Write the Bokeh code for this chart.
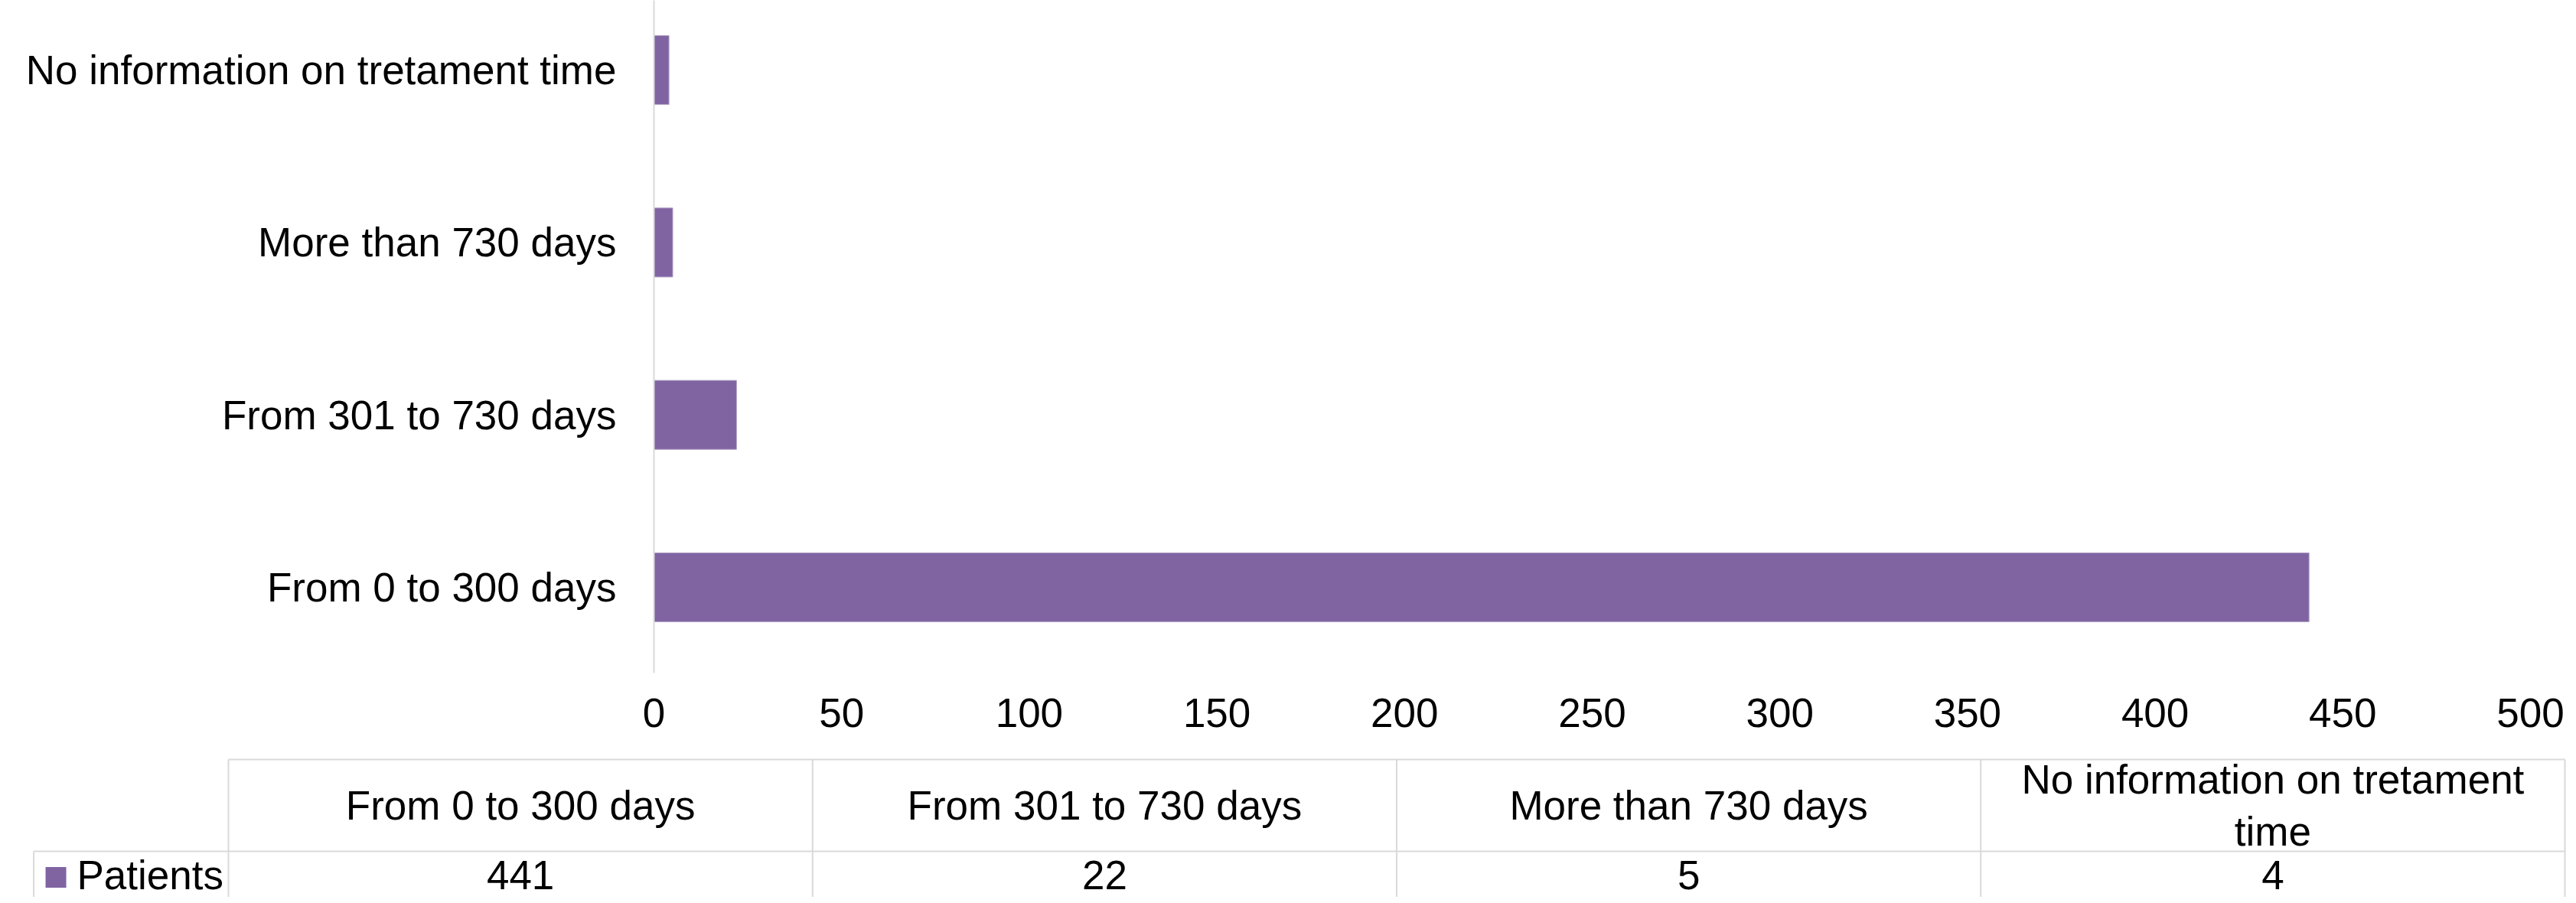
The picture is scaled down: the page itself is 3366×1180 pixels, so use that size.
import textwrap
from bokeh.plotting import figure
from bokeh.models import Range1d, FixedTicker, ColumnDataSource
from bokeh.core.properties import value
from bokeh.embed import file_html
from bokeh.resources import INLINE

# ---- data ----
categories = ["From 0 to 300 days", "From 301 to 730 days", "More than 730 days",
              "No information on tretament time"]
patients = [441, 22, 5, 4]
series_name = "Patients"
x_ticks = [0, 50, 100, 150, 200, 250, 300, 350, 400, 450, 500]

# ---- style ----
FONT = "Liberation Sans"
FS = "53px"
BAR = "#8064A2"
GRID = "#D9D9D9"

ypos = list(range(len(categories)))

p1 = figure(width=3358, height=989, x_range=Range1d(0, 500),
            y_range=Range1d(-0.497, 3.404), output_backend="svg",
            toolbar_location=None, min_border_left=854, min_border_right=52,
            min_border_top=0, min_border_bottom=110)
p1.outline_line_color = None
p1.xgrid.visible = False
p1.ygrid.visible = False

src = ColumnDataSource(dict(y=ypos, v=patients))
p1.hbar(y="y", left=0, right="v", height=0.4, source=src,
        fill_color=BAR, line_color="#B3A2C7", line_width=1)

xa = p1.xaxis[0]
xa.ticker = FixedTicker(ticks=x_ticks)
xa.axis_line_color = None
xa.major_tick_line_color = None
xa.minor_tick_line_color = None
xa.major_tick_out = 0
xa.major_label_standoff = 33
xa.major_label_text_font = FONT
xa.major_label_text_font_size = FS
xa.major_label_text_color = "black"

ya = p1.yaxis[0]
ya.ticker = FixedTicker(ticks=ypos)
ya.major_label_overrides = {i: c for i, c in zip(ypos, categories)}
ya.axis_line_color = GRID
ya.axis_line_width = 2
ya.major_tick_line_color = None
ya.minor_tick_line_color = None
ya.major_tick_out = 0
ya.major_label_standoff = 49
ya.major_label_text_font = FONT
ya.major_label_text_font_size = FS
ya.major_label_text_color = "black"

# ---- data table ----
n = len(categories)
p2 = figure(width=3358, height=183, x_range=Range1d(-0.39044, 4.00917),
            y_range=Range1d(183, 0), output_backend="svg", toolbar_location=None,
            min_border_left=0, min_border_right=0, min_border_top=0,
            min_border_bottom=0, x_axis_location=None, y_axis_location=None)
p2.outline_line_color = None
p2.xgrid.visible = False
p2.ygrid.visible = False

HEAD_TOP, ROW_SEP, BOTTOM = 3, 123, 183
seg_x0 = [0, -1/3] + list(range(n + 1)) + [-1/3]
seg_x1 = [n, n] + list(range(n + 1)) + [-1/3]
seg_y0 = [HEAD_TOP, ROW_SEP] + [HEAD_TOP] * (n + 1) + [ROW_SEP]
seg_y1 = [HEAD_TOP, ROW_SEP] + [BOTTOM] * (n + 1) + [BOTTOM]
p2.segment(x0=seg_x0, y0=seg_y0, x1=seg_x1, y1=seg_y1, line_color=GRID, line_width=2)

centers = [i + 0.5 for i in range(n)]
header_txt = [textwrap.fill(c, 28) for c in categories]
p2.text(x=centers, y=[63] * n, text=header_txt, text_align="center",
        text_baseline="middle", text_font=value(FONT), text_font_size=value(FS),
        text_color="black", text_line_height=1.15)
p2.text(x=centers, y=[154] * n, text=[str(v) for v in patients], text_align="center",
        text_baseline="middle", text_font=value(FONT), text_font_size=value(FS),
        text_color="black")

p2.rect(x=[-0.2954], y=[157], width=27, height=27, width_units="screen",
        height_units="screen", fill_color=BAR, line_color=None)
p2.text(x=[-0.2594], y=[154], text=[series_name], text_align="left",
        text_baseline="middle", text_font=value(FONT), text_font_size=value(FS),
        text_color="black")

open("out.html", "w").write(file_html([p1, p2], INLINE))
